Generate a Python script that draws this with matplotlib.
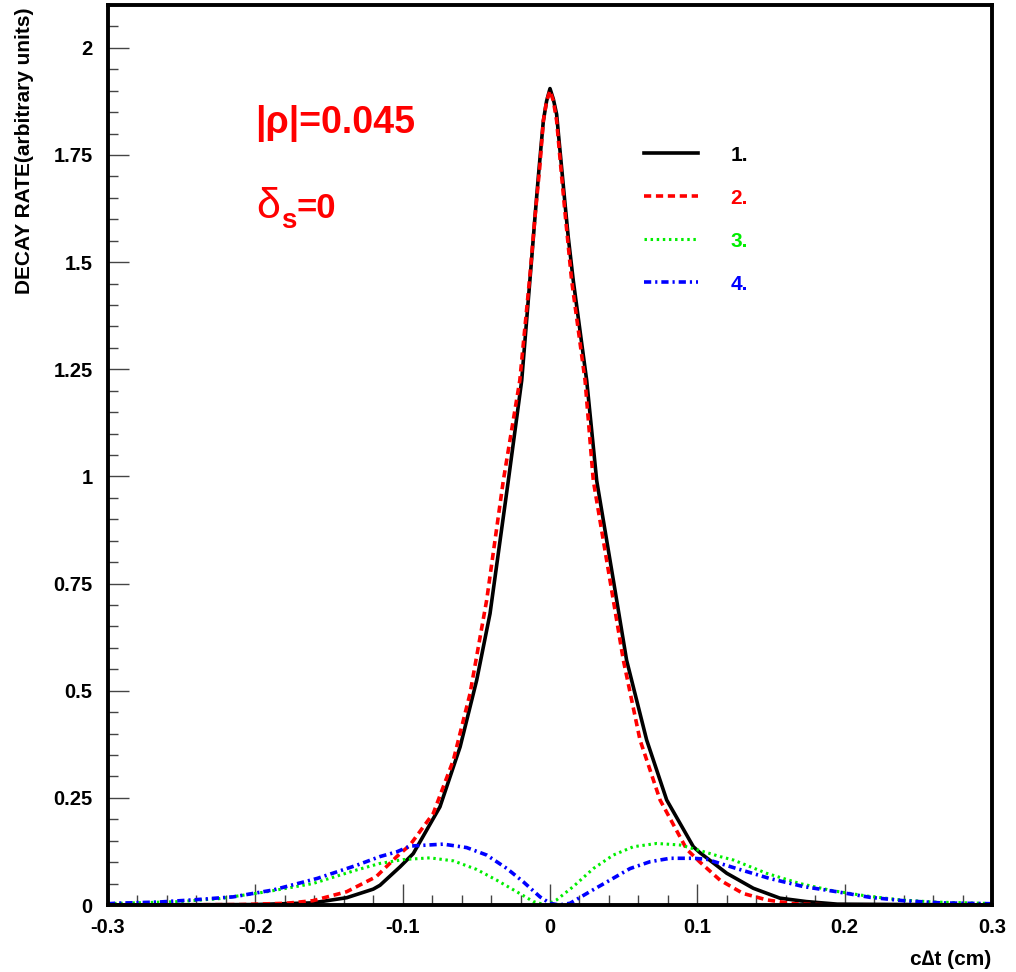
import matplotlib
matplotlib.use("Agg")
import matplotlib.pyplot as plt
from matplotlib.ticker import MultipleLocator, FixedLocator

plt.rcParams['font.family'] = ['Liberation Sans', 'DejaVu Sans']

# values (c*dt in cm, decay rate in arbitrary units)
x1 = [-0.30, -0.20, -0.161, -0.138, -0.12, -0.1154, -0.1018, -0.0928, -0.0747, -0.061,
      -0.0498, -0.0407, -0.0283, -0.0192, -0.0124, -0.0102, -0.0079, -0.0057, -0.0045,
      -0.0023, 0.0, 0.0023, 0.0045, 0.0057, 0.0079, 0.0102, 0.0124, 0.0158, 0.0249,
      0.0317, 0.043, 0.052, 0.0656, 0.0792, 0.0973, 0.1018, 0.12, 0.138, 0.156, 0.174,
      0.195, 0.30]
y1 = [0.0, 0.001, 0.005, 0.017, 0.037, 0.046, 0.089, 0.12, 0.229, 0.369,
      0.524, 0.68, 0.99, 1.224, 1.51, 1.605, 1.70, 1.785, 1.83,
      1.876, 1.905, 1.88, 1.845, 1.80, 1.72, 1.636, 1.558, 1.457, 1.224,
      0.99, 0.758, 0.571, 0.385, 0.245, 0.136, 0.122, 0.074, 0.039, 0.016, 0.008,
      0.002, 0.0]

x2 = [-0.30, -0.21, -0.179, -0.161, -0.138, -0.118, -0.104, -0.095, -0.0792, -0.0656,
      -0.0543, -0.043, -0.0317, -0.0205, -0.0136, -0.0102, -0.007, -0.0045, -0.0023,
      0.0, 0.0023, 0.0045, 0.0079, 0.0102, 0.0147, 0.0238, 0.0294, 0.0407, 0.0498,
      0.0611, 0.0747, 0.0928, 0.1018, 0.1154, 0.131, 0.147, 0.165, 0.19, 0.30]
y2 = [0.0, 0.001, 0.004, 0.01, 0.031, 0.066, 0.113, 0.14, 0.214, 0.338,
      0.493, 0.711, 0.99, 1.224, 1.47, 1.605, 1.72, 1.83, 1.876,
      1.90, 1.876, 1.83, 1.70, 1.615, 1.457, 1.224, 0.99, 0.758, 0.571,
      0.385, 0.245, 0.13, 0.1, 0.058, 0.027, 0.012, 0.003, 0.0, 0.0]

x3 = [-0.30, -0.292, -0.251, -0.224, -0.192, -0.161, -0.131, -0.1154, -0.0996, -0.0815,
      -0.0656, -0.0498, -0.0362, -0.0226, -0.0113, -0.003, 0.0045, 0.0158, 0.0294,
      0.043, 0.0566, 0.0724, 0.0883, 0.1018, 0.1154, 0.1245, 0.147, 0.1697, 0.1924,
      0.215, 0.2376, 0.26, 0.294, 0.30]
y3 = [0.003, 0.004, 0.008, 0.015, 0.031, 0.05, 0.082, 0.097, 0.106, 0.110,
      0.103, 0.083, 0.058, 0.031, 0.008, 0.0, 0.012, 0.043, 0.085,
      0.1166, 0.136, 0.1436, 0.14, 0.127, 0.113, 0.105, 0.074, 0.05, 0.033,
      0.021, 0.012, 0.007, 0.004, 0.003]

x4 = [-0.30, -0.295, -0.265, -0.242, -0.215, -0.188, -0.158, -0.131, -0.1154, -0.104,
      -0.095, -0.0724, -0.0566, -0.043, -0.0294, -0.0181, -0.0068, 0.0, 0.006, 0.0136,
      0.027, 0.0407, 0.0543, 0.0679, 0.0815, 0.097, 0.106, 0.1267, 0.149, 0.172,
      0.1946, 0.217, 0.24, 0.265, 0.30]
y4 = [0.003, 0.004, 0.007, 0.012, 0.019, 0.035, 0.062, 0.093, 0.113, 0.124,
      0.1375, 0.142, 0.134, 0.1166, 0.0855, 0.054, 0.019, 0.004, 0.0, 0.004,
      0.031, 0.058, 0.085, 0.101, 0.109, 0.109, 0.107, 0.085, 0.062, 0.043,
      0.031, 0.018, 0.01, 0.005, 0.003]

labels = ["1.", "2.", "3.", "4."]
colors = ["black", "#ff0000", "#00ee00", "#0000ff"]
yticks = [0, 0.25, 0.5, 0.75, 1, 1.25, 1.5, 1.75, 2]
ytick_labels = ["0", "0.25", "0.5", "0.75", "1", "1.25", "1.5", "1.75", "2"]
xticks = [-0.3, -0.2, -0.1, 0, 0.1, 0.2, 0.3]
xtick_labels = ["-0.3", "-0.2", "-0.1", "0", "0.1", "0.2", "0.3"]

W, H = 1016, 972
fig = plt.figure(figsize=(W / 100, H / 100), dpi=100)
ax = fig.add_axes([108 / W, 67 / H, 884 / W, 900 / H])

ax.plot(x1, y1, color=colors[0], lw=2.6, label=labels[0])
ax.plot(x2, y2, color=colors[1], lw=2.6, dashes=(2.0, 1.3), label=labels[1])
ax.plot(x3, y3, color=colors[2], lw=2.2, dashes=(0.8, 1.2), label=labels[2])
ax.plot(x4, y4, color=colors[3], lw=2.6, dashes=(2.0, 1.1, 0.6, 1.1), label=labels[3])

ax.set_xlim(-0.3, 0.3)
ax.set_ylim(0, 2.1)
ax.xaxis.set_major_locator(FixedLocator(xticks))
ax.set_xticklabels(xtick_labels)
ax.xaxis.set_minor_locator(MultipleLocator(0.02))
ax.yaxis.set_major_locator(FixedLocator(yticks))
ax.set_yticklabels(ytick_labels)
ax.yaxis.set_minor_locator(MultipleLocator(0.05))

ax.tick_params(which="both", direction="in", top=False, right=False, color="#444444", width=1)
ax.tick_params(which="major", length=15, labelsize=14.5)
ax.tick_params(which="minor", length=7)
ax.tick_params(axis="y", pad=11)
ax.tick_params(axis="x", pad=9)
for lab in ax.get_xticklabels() + ax.get_yticklabels():
    lab.set_fontweight("bold")
for sp in ax.spines.values():
    sp.set_linewidth(2.8)

fig.text(991 / W, 1 - 959 / H, "c\u2206t (cm)", ha="right", va="center",
         fontsize=15, fontweight="bold")
fig.text(25 / W, 1 - 8 / H, "DECAY RATE(arbitrary units)", ha="center", va="top",
         rotation=90, fontsize=15, fontweight="bold")

# parameter annotations
fig.text(255 / W, 1 - 123 / H, "|\u03c1|=0.045", ha="left", va="center",
         fontsize=27, fontweight="bold", color="red")
fig.text(256 / W, 1 - 207 / H, "\u03b4", ha="left", va="center",
         fontsize=31, color="red")
fig.text(281 / W, 1 - 221 / H, "s", ha="left", va="center",
         fontsize=20, fontweight="bold", color="red")
fig.text(296 / W, 1 - 209 / H, "=0", ha="left", va="center",
         fontsize=25, fontweight="bold", color="red")

leg = ax.legend(loc="upper left", bbox_to_anchor=(625 / W, 1 - 127 / H),
                bbox_transform=fig.transFigure, frameon=False,
                handlelength=2.6, handletextpad=1.55, labelspacing=1.15,
                labelcolor="linecolor", prop={"weight": "bold", "size": 15})

fig.savefig("out.png", dpi=100)
